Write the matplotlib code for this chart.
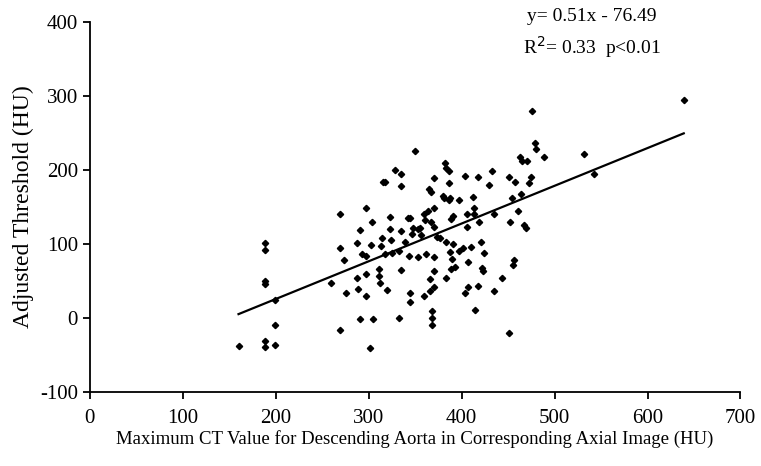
import matplotlib.pyplot as plt
import numpy as np

# max CT value in descending aorta (HU) vs adjusted threshold (HU)
ct_max = [160, 189, 189, 189, 189, 189, 189, 199, 199, 199,
          260, 269, 269, 269, 274, 276, 288, 288, 289, 291,
          291, 293, 297, 297, 297, 297, 301, 303, 304, 305,
          311, 311, 312, 313, 314, 315, 318, 318, 320, 323,
          323, 324, 328, 333, 335, 335, 335, 335, 333, 339,
          342, 343, 344, 344, 345, 347, 348, 350, 353, 353,
          356, 360, 360, 362, 364, 365, 367, 367, 366, 366,
          368, 368, 368, 370, 370, 370, 370, 370, 370, 373,
          377, 380, 381, 382, 383, 383, 383, 386, 386, 386,
          387, 388, 389, 389, 390, 391, 391, 393, 397, 397,
          402, 404, 404, 406, 406, 407, 407, 410, 412, 413,
          413, 414, 418, 418, 419, 421, 422, 423, 424, 430,
          433, 435, 444, 451, 451, 452, 454, 455, 456, 457,
          461, 463, 464, 465, 467, 469, 470, 473, 475, 476,
          479, 480, 489, 532, 542, 639, 361, 435, 325, 355]
threshold = [-38, -31, -39, 101, 92, 50, 46, 24, -10, -36,
             47, 140, 95, -17, 78, 34, 101, 54, 39, 119,
             -2, 87, 149, 83, 60, 29, -40, 99, 130, -1,
             66, 56, 47, 97, 108, 184, 184, 86, 38, 136,
             120, 105, 200, 90, 194, 178, 117, 65, 0, 103,
             135, 83, 33, 21, 135, 113, 121, 225, 120, 82,
             112, 29, 141, 87, 144, 174, 170, 130, 52, 36,
             9, 0, -10, 189, 123, 82, 64, 42, 149, 110,
             108, 165, 162, 209, 203, 102, 54, 198, 182, 159,
             89, 162, 134, 66, 79, 138, 100, 69, 159, 90,
             95, 192, 33, 141, 123, 75, 42, 96, 163, 149,
             141, 11, 190, 43, 129, 102, 68, 63, 88, 179,
             199, 37, 54, -21, 190, 129, 162, 71, 78, 183,
             145, 217, 168, 212, 126, 121, 212, 182, 190, 279,
             237, 228, 217, 222, 194, 295, 132, 140, 88, 121]

slope, intercept = 0.51, -76.49

plt.rcParams['font.family'] = ['Liberation Serif', 'DejaVu Serif']
plt.rcParams['axes.unicode_minus'] = False

fig = plt.figure(figsize=(7.61, 4.66), dpi=100)
ax = fig.add_axes([0.118, 0.159, 0.855, 0.794])

ax.plot(ct_max, threshold, 'kD', markersize=3.2)
xl = np.array([min(ct_max), max(ct_max)])
ax.plot(xl, slope * xl + intercept, 'k-', lw=1.6)

ax.set_xlim(0, 700)
ax.set_ylim(-100, 400)
ax.set_xticks(range(0, 701, 100))
ax.set_yticks(range(-100, 401, 100))
for s in ['top', 'right']:
    ax.spines[s].set_visible(False)
ax.spines['left'].set_linewidth(1.3)
ax.spines['bottom'].set_linewidth(1.3)
ax.tick_params(labelsize=15, length=5, width=1.3, direction='out')
ax.tick_params(axis='x', pad=7)

ax.set_xlabel('Maximum CT Value for Descending Aorta in Corresponding Axial Image (HU)',
              fontsize=13.5, labelpad=2)
ax.set_ylabel('Adjusted Threshold (HU)', fontsize=17, labelpad=4)

ax.text(540, 407, 'y= 0.51x - 76.49', fontsize=14, ha='center', va='center')
ax.text(540, 366, 'R$^2$= 0.33  p<0.01', fontsize=14, ha='center', va='center')

fig.savefig('out.png')
